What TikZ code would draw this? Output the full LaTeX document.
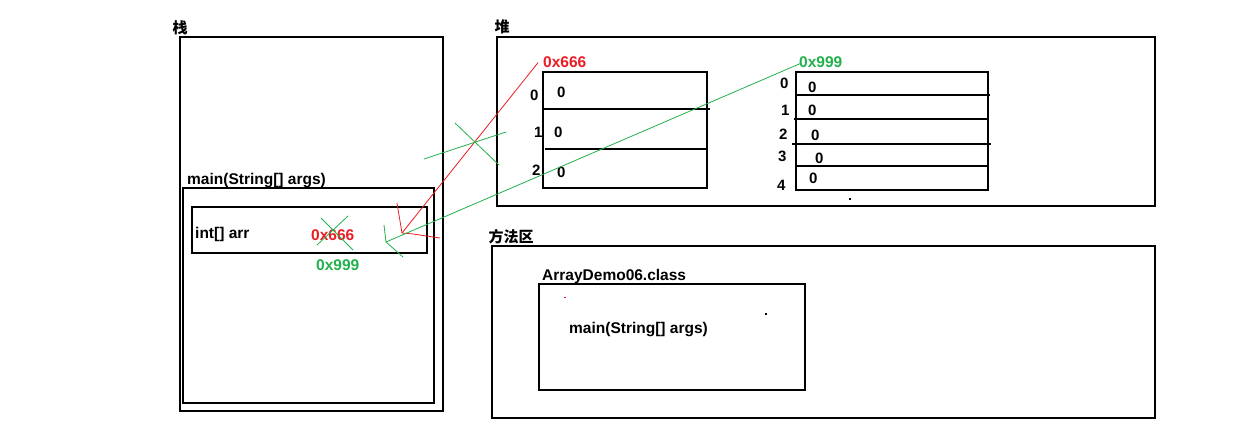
\documentclass[tikz,border=0pt]{standalone}
\usepackage{fontspec}
\usetikzlibrary{calc}
\setmainfont{Liberation Sans}
\newfontfamily\cjk{Noto Sans CJK SC}
\definecolor{pred}{RGB}{237,28,36}
\definecolor{pgreen}{RGB}{34,177,76}
\begin{document}
\begin{tikzpicture}[x=1pt,y=-1pt,
  txt/.style={inner sep=0pt, anchor=base west, font=\bfseries\fontsize{15.5}{18}\selectfont},
  num/.style={inner sep=0pt, anchor=base west, font=\bfseries\fontsize{15}{18}\selectfont},
  cn/.style={inner sep=0pt, anchor=center, font=\cjk\bfseries\fontsize{15}{18}\selectfont},
  frame/.style={draw=black, line width=1.2pt},
  rline/.style={draw=pred, line width=0.8pt},
  gline/.style={draw=pgreen, line width=0.8pt},
  speck/.style={fill=black, inner sep=0pt, minimum size=2pt}]
\fill[white] (0,0) rectangle (1249,442);
\useasboundingbox (0,0) rectangle (1249,442);

% ---------- stack ----------
\node[cn] (lstack) at (180,28) {栈};
\draw[frame] (180,37) rectangle (443,411);
\node[txt] (lmain) at (187,184) {main(String[] args)};
\draw[frame] (183,188) rectangle (434,403);
\draw[frame] (192,207) rectangle (427,253);
\node[txt] (larr) at (195,238) {int[] arr};
\node[txt, text=pred] (s666) at (311,240) {0x666};
\node[txt, text=pgreen] (s999) at (316,270) {0x999};
\draw[gline] (321,218) -- (353,250);
\draw[gline] (348,216) -- (317,245);

% ---------- heap ----------
\node[cn] (lheap) at (502,27) {堆};
\draw[frame] (497,37) rectangle (1155,206);
\node[txt, text=pred] (h666) at (543,67) {0x666};
\draw[frame] (543,72) rectangle (707,188);
\draw[frame] (542,109) -- (710,109);
\draw[frame] (545,149) -- (707,149);
\node[num] (a0) at (530,100) {0};
\node[num] (a1) at (534,137) {1};
\node[num] (a2) at (532,175) {2};
\node[num] (v0) at (557,97) {0};
\node[num] (v1) at (554,137) {0};
\node[num] (v2) at (557,177) {0};

\node[txt, text=pgreen] (h999) at (799,67) {0x999};
\draw[frame] (796,72) rectangle (988,190);
\draw[frame] (796,95) -- (990,95);
\draw[frame] (794,119) -- (988,119);
\draw[frame] (792,144) -- (991,144);
\draw[frame] (796,166) -- (988,166);
\node[num] (b0) at (780,88) {0};
\node[num] (b1) at (781,115) {1};
\node[num] (b2) at (779,139) {2};
\node[num] (b3) at (778,161) {3};
\node[num] (b4) at (777,190) {4};
\node[num] (w0) at (808,92) {0};
\node[num] (w1) at (808,115) {0};
\node[num] (w2) at (811,140) {0};
\node[num] (w3) at (815,163) {0};
\node[num] (w4) at (809,183) {0};
\node[speck] (d1) at (850,199) {};

% ---------- method area ----------
\node[cn] (lmeth) at (511,237) {方法区};
\draw[frame] (492,246) rectangle (1155,418);
\node[txt] (lcls) at (542,280) {ArrayDemo06.class};
\draw[frame] (539,284) rectangle (805,390);
\node[txt] (lmain2) at (569,333) {main(String[] args)};
\node[speck] (d2) at (766,314) {};
\node[fill=pred, inner sep=0pt, minimum width=2pt, minimum height=1pt] (d3) at (565,297) {};

% ---------- references ----------
\coordinate (rtip) at (402,233);
\coordinate (gtip) at (386,242);
\draw[rline] ($(h666.west)+(-5,1)$) -- (rtip);
\draw[rline] (397,203) -- (rtip) -- (413,234) -- (440,238);
\draw[gline] ($(h999.west)+(1,2)$) -- (gtip);
\draw[gline] (384,225) -- (gtip) -- (403,257);
\draw[gline] (455,123) -- (499,165);
\draw[gline] (424,159) -- (506,132);
\end{tikzpicture}
\end{document}
